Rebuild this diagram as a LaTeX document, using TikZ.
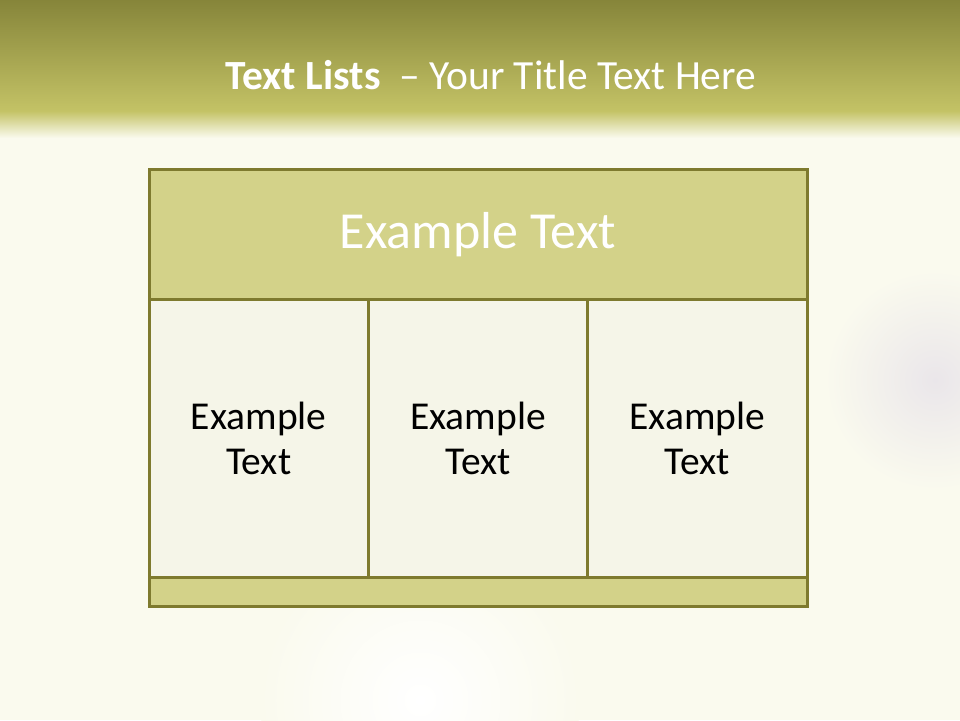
\documentclass[tikz,border=0pt]{standalone}
\usepackage{fontspec}
\setmainfont{Carlito}
\usetikzlibrary{positioning}
\definecolor{olivedark}{HTML}{7E7A2E}
\definecolor{olivetop}{HTML}{86853A}
\definecolor{olivemid}{HTML}{C4C366}
\definecolor{headfill}{HTML}{D3D289}
\definecolor{cellfill}{HTML}{F5F5E8}
\definecolor{creambg}{HTML}{FAFAEE}
\definecolor{mistbg}{HTML}{EAE6EA}

\begin{document}
\begin{tikzpicture}[
  x=1pt, y=-1pt,
  headbox/.style={draw=olivedark, line width=3pt, fill=headfill, outer sep=0pt,
    minimum width=658pt, minimum height=130pt, text=white,
    font=\fontsize{52}{56}\selectfont},
  cellbox/.style={draw=olivedark, line width=3pt, fill=cellfill, outer sep=0pt,
    minimum width=219.33pt, minimum height=278pt, align=center,
    font=\fontsize{39.5}{45}\selectfont},
  footbox/.style={draw=olivedark, line width=3pt, fill=headfill, outer sep=0pt,
    minimum width=658pt, minimum height=29pt}
]
% background
\useasboundingbox (0,0) rectangle (960,720);
\fill[creambg] (0,0) rectangle (960,720);
\shade[inner color=mistbg, outer color=creambg] (935,380) circle (110);
\shade[inner color=white, outer color=creambg] (420,700) circle (160);
\shade[top color=olivetop, bottom color=olivemid] (0,0) rectangle (960,112);
\shade[top color=olivemid, bottom color=creambg] (0,111) rectangle (960,138);

% title
\node[text=white, font=\fontsize{41.5}{45}\selectfont] (title) at (491,75)
  {\textbf{Text Lists}\ \ – Your Title Text Here};

% table
\node[headbox] (head) at (478,234.5) {Example Text};
\node[cellbox, anchor=north west] (cellA) at (head.south west) {Example\\Text};
\node[cellbox, right=0pt of cellA] (cellB) {Example\\Text};
\node[cellbox, right=0pt of cellB] (cellC) {Example\\Text};
\node[footbox, anchor=north west] (foot) at (cellA.south west) {};
\end{tikzpicture}
\end{document}
